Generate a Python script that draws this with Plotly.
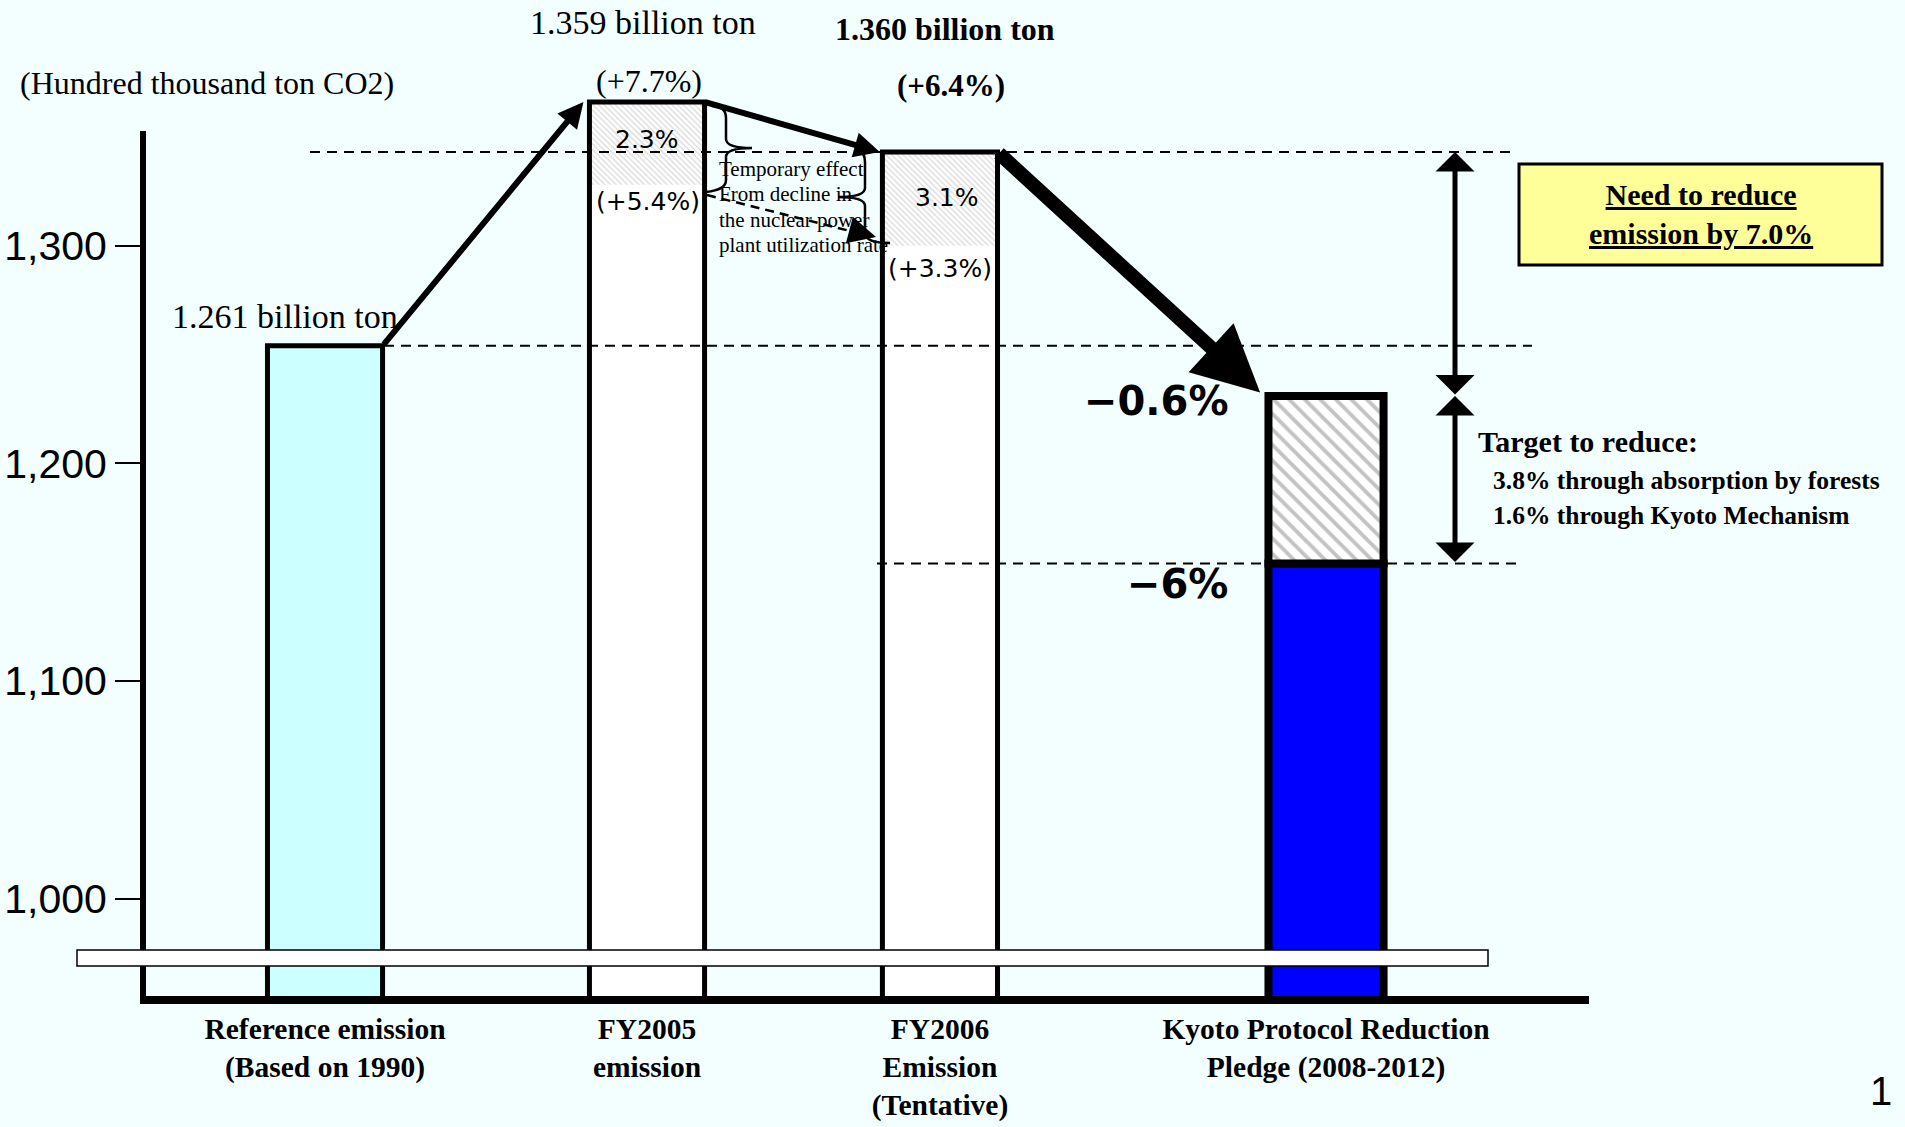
import plotly.graph_objects as go

# ---------------- data ----------------
categories = ["Reference emission<br>(Based on 1990)", "FY2005<br>emission",
              "FY2006<br>Emission<br>(Tentative)", "Kyoto Protocol Reduction<br>Pledge (2008-2012)"]
emission = [1254, 1366, 1343, 1231]          # bar tops as drawn against the axis
temp_effect_low = [None, 1328, 1300, None]   # lower edge of hatched nuclear-effect band
kyoto_target = 1154                          # -6 % pledge level
y_tick_vals = [1000, 1100, 1200, 1300]
y_tick_text = ["1,000", "1,100", "1,200", "1,300"]
bar_fill = ["#CCFFFF", "#FFFFFF", "#FFFFFF"]

# ---------------- layout constants ----------------
W, H = 1905, 1127
ML, MB = 143, 127
PW, PH = W - ML, H - MB
Y0, Y1 = 953.5, 1412.85
X0, X1 = -0.5455, 4.7352
x_pos = [0.0, 0.965, 1.843, 3.0]
bar_w = 0.345
SERIF = "Liberation Serif"
SANS = "Liberation Sans"
DEJ = "DejaVu Sans"
BG = "#F3FEFF"


def xp(px):
    return (px - ML) / PW


def yp(py):
    return 1 - py / PH


def xd(px):
    return X0 + (px - ML) / PW * (X1 - X0)


def yd(py):
    return Y1 - py / PH * (Y1 - Y0)


def txt(px, py, text, size, family=SERIF, bold=False, xanchor="center"):
    return dict(xref="paper", yref="paper", x=xp(px), y=yp(py), text=text, showarrow=False,
                xanchor=xanchor, yanchor="middle",
                font=dict(size=size, family=family, color="black", weight="bold" if bold else "normal"))


def arrow(xt, yt, xh, yh, width, size, head=2, both=False):
    d = dict(xref="x", yref="y", axref="x", ayref="y", x=xh, y=yh, ax=xt, ay=yt, text="",
             showarrow=True, arrowhead=head, arrowwidth=width, arrowsize=size,
             arrowcolor="black", standoff=0)
    if both:
        d.update(arrowside="end+start", startarrowhead=head, startarrowsize=size, startstandoff=0)
    return d


fig = go.Figure()

# bar fills (first three)
fig.add_trace(go.Bar(x=x_pos[:3], y=emission[:3], width=bar_w,
                     marker=dict(color=bar_fill, line=dict(width=0)), hoverinfo="skip"))
# hatched temporary-effect bands
band_x = [x_pos[i] for i in (1, 2)]
band_base = [temp_effect_low[i] for i in (1, 2)]
band_h = [emission[i] - temp_effect_low[i] for i in (1, 2)]
fig.add_trace(go.Bar(x=band_x, y=band_h, base=band_base, width=bar_w,
                     marker=dict(color="white", line=dict(width=0),
                                 pattern=dict(shape="\\", fgcolor="#B8B8B8", bgcolor="white",
                                              size=4, solidity=0.35)), hoverinfo="skip"))
# outlines
fig.add_trace(go.Bar(x=x_pos[:3], y=emission[:3], width=bar_w,
                     marker=dict(color="rgba(0,0,0,0)", line=dict(width=5, color="black")),
                     hoverinfo="skip"))
# Kyoto pledge: blue part + hatched part
fig.add_trace(go.Bar(x=[x_pos[3]], y=[kyoto_target], width=bar_w,
                     marker=dict(color="#0000FF", line=dict(width=8, color="black")), hoverinfo="skip"))
fig.add_trace(go.Bar(x=[x_pos[3]], y=[emission[3] - kyoto_target], base=[kyoto_target], width=bar_w,
                     marker=dict(color="white", line=dict(width=8, color="black"),
                                 pattern=dict(shape="\\", fgcolor="#888888", bgcolor="white",
                                              size=11, solidity=0.35)), hoverinfo="skip"))

shapes = []
# dashed reference lines
dash = dict(color="black", width=2, dash="10px,7px")
shapes.append(dict(type="line", xref="paper", yref="y", x0=xp(310), x1=xp(1516),
                   y0=emission[2], y1=emission[2], line=dash, layer="above"))
shapes.append(dict(type="line", xref="paper", yref="y", x0=xp(384), x1=xp(1532),
                   y0=emission[0], y1=emission[0], line=dash, layer="above"))
shapes.append(dict(type="line", xref="paper", yref="y", x0=xp(877), x1=xp(1522),
                   y0=kyoto_target, y1=kyoto_target, line=dash, layer="above"))
# y axis line and bottom axis line
shapes.append(dict(type="line", xref="paper", yref="paper", x0=0, x1=0, y0=yp(131), y1=yp(1000),
                   line=dict(color="black", width=6), layer="above"))
shapes.append(dict(type="line", xref="paper", yref="paper", x0=xp(140), x1=xp(1589), y0=yp(1000),
                   y1=yp(1000), line=dict(color="black", width=8), layer="above"))
# axis break band
shapes.append(dict(type="rect", xref="paper", yref="paper", x0=xp(77), x1=xp(1488), y0=yp(950),
                   y1=yp(966), fillcolor="white", line=dict(color="black", width=1.5), layer="above"))
# yellow box
shapes.append(dict(type="rect", xref="paper", yref="paper", x0=xp(1519), x1=xp(1882), y0=yp(164),
                   y1=yp(265), fillcolor="#FFFF99", line=dict(color="black", width=3), layer="above"))


def path(pts):
    out = []
    for p in pts:
        if p[0] in ("M", "L"):
            out.append(f"{p[0]} {xp(p[1])},{yp(p[2])}")
        else:  # Q
            out.append(f"Q {xp(p[1])},{yp(p[2])} {xp(p[3])},{yp(p[4])}")
    return " ".join(out)


brace1 = [("M", 712, 106), ("Q", 726, 106, 726, 118), ("L", 726, 139), ("Q", 726, 148, 752, 148),
          ("Q", 726, 148, 726, 157), ("L", 726, 180), ("Q", 726, 190, 706, 192)]
brace2 = [("M", 858, 152), ("Q", 865, 152, 865, 162), ("L", 865, 188), ("Q", 865, 197, 838, 197),
          ("Q", 865, 197, 865, 206), ("L", 865, 233), ("Q", 865, 243, 890, 243)]
for b in (brace1, brace2):
    shapes.append(dict(type="path", xref="paper", yref="paper", path=path(b),
                       line=dict(color="black", width=2.5), layer="above"))
# dashed arrow shaft
shapes.append(dict(type="line", xref="paper", yref="paper", x0=xp(707), y0=yp(195), x1=xp(862),
                   y1=yp(234), line=dict(color="black", width=2.5, dash="9px,6px"), layer="above"))

ann = []
# arrows between bars
ann.append(arrow(x_pos[0] + bar_w / 2, emission[0], x_pos[1] - bar_w / 2 - 0.018, emission[1], 6, 0.85))
ann.append(arrow(x_pos[1] + bar_w / 2, emission[1], x_pos[2] - bar_w / 2 - 0.008, emission[2], 6, 0.85))
ann.append(arrow(x_pos[2] + bar_w / 2, emission[2], x_pos[3] - bar_w / 2 - 0.025, emission[3] + 1.5, 14, 0.95))
ann.append(arrow(xd(1455), emission[3], xd(1455), emission[2], 5, 1.3, head=1, both=True))
ann.append(arrow(xd(1455), kyoto_target, xd(1455), emission[3], 5, 1.3, head=1, both=True))
# dashed arrow head
ann.append(dict(xref="paper", yref="paper", x=xp(876), y=yp(237), ax=-19, ay=-5, text="",
                showarrow=True, arrowhead=2, arrowwidth=2.5, arrowsize=2.2, arrowcolor="black",
                standoff=0))

# texts
ann.append(txt(18, 83, "(Hundred thousand ton CO2)", 32, xanchor="left"))
ann.append(txt(643, 22, "1.359 billion ton", 34))
ann.append(txt(649, 81, "(+7.7%)", 32))
ann.append(txt(945, 29, "1.360 billion ton", 32, bold=True))
ann.append(txt(951, 86, "(+6.4%)", 31, bold=True))
ann.append(txt(285, 317, "1.261 billion ton", 34))
ann.append(txt(647, 139, "2.3%", 25, family=DEJ))
ann.append(txt(648, 202, "(+5.4%)", 25, family=DEJ))
ann.append(txt(947, 198, "3.1%", 25, family=DEJ))
ann.append(txt(940, 268, "(+3.3%)", 25, family=DEJ))
for i, line in enumerate(["Temporary effect", "From decline in", "the nuclear power",
                          "plant utilization rate"]):
    ann.append(txt(717, 169 + i * 25.3, line, 21, xanchor="left"))
ann.append(txt(1230, 401, "−0.6%", 40, family=DEJ, bold=True, xanchor="right"))
ann.append(txt(1230, 584, "−6%", 40, family=DEJ, bold=True, xanchor="right"))
ann.append(txt(1701, 214, "<u>Need to reduce</u><br><u>emission by 7.0%</u>", 30, bold=True))
ann.append(txt(1476, 442, "Target to reduce:", 30, bold=True, xanchor="left"))
ann.append(txt(1491, 480, "3.8% through absorption by forests", 25.5, bold=True, xanchor="left"))
ann.append(txt(1491, 515, "1.6% through Kyoto Mechanism", 25.5, bold=True, xanchor="left"))
ann.append(txt(1881, 1091, "1", 40, family=SANS))

fig.update_layout(
    width=W, height=H, margin=dict(l=ML, r=0, t=0, b=MB, pad=0, autoexpand=False),
    paper_bgcolor=BG, plot_bgcolor=BG, showlegend=False, barmode="overlay",
    shapes=shapes, annotations=ann,
    xaxis=dict(range=[X0, X1], tickvals=x_pos, ticktext=categories, showgrid=False, zeroline=False,
               showline=False, ticks="", ticklabelstandoff=8, automargin=False,
               tickfont=dict(family=SERIF, size=29.5, color="black", weight="bold")),
    yaxis=dict(range=[Y0, Y1], tickvals=y_tick_vals, ticktext=y_tick_text, showgrid=False,
               zeroline=False, showline=False, ticks="outside", ticklen=27, tickwidth=2,
               tickcolor="black", ticklabelstandoff=0, automargin=False,
               tickfont=dict(family=SANS, size=41, color="black")),
)

fig.write_html("out.html")
